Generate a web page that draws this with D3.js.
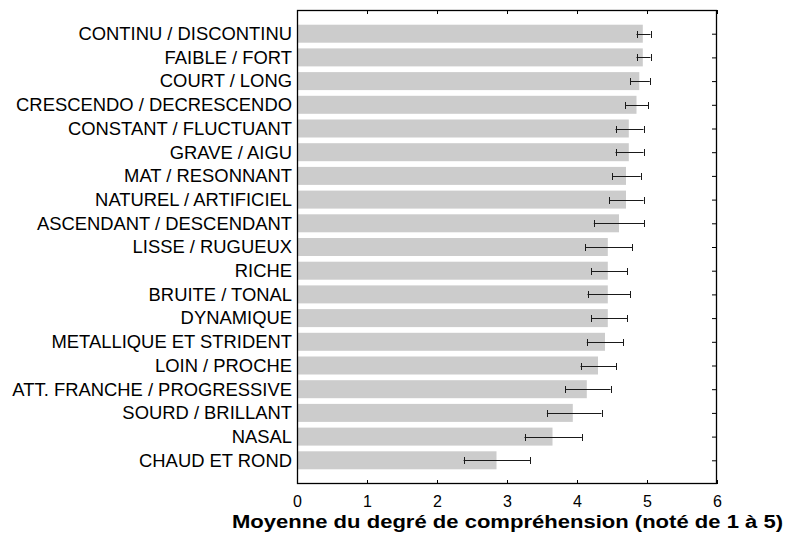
<!DOCTYPE html>
<html>
<head>
<meta charset="utf-8">
<script src="https://cdn.jsdelivr.net/npm/d3@7/dist/d3.min.js"></script>
<style>
  html, body { margin: 0; padding: 0; background: #fff; }
  svg { display: block; }
  text { font-family: "Liberation Sans", Arial, Helvetica, sans-serif; }
</style>
</head>
<body>
<svg id="chart" width="788" height="536"></svg>
<script>
const categories = [
  "CONTINU / DISCONTINU",
  "FAIBLE / FORT",
  "COURT / LONG",
  "CRESCENDO / DECRESCENDO",
  "CONSTANT / FLUCTUANT",
  "GRAVE / AIGU",
  "MAT / RESONNANT",
  "NATUREL / ARTIFICIEL",
  "ASCENDANT / DESCENDANT",
  "LISSE / RUGUEUX",
  "RICHE",
  "BRUITE / TONAL",
  "DYNAMIQUE",
  "METALLIQUE ET STRIDENT",
  "LOIN / PROCHE",
  "ATT. FRANCHE / PROGRESSIVE",
  "SOURD / BRILLANT",
  "NASAL",
  "CHAUD ET ROND"
];
const means = [4.94, 4.94, 4.89, 4.85, 4.74, 4.74, 4.70, 4.70, 4.60, 4.44, 4.44, 4.44, 4.44, 4.40, 4.30, 4.14, 3.94, 3.65, 2.85];
const errLow = [4.85, 4.85, 4.76, 4.69, 4.55, 4.55, 4.50, 4.46, 4.24, 4.12, 4.20, 4.15, 4.20, 4.14, 4.05, 3.83, 3.57, 3.25, 2.38];
const errHigh = [5.05, 5.05, 5.04, 5.02, 4.95, 4.95, 4.91, 4.95, 4.96, 4.79, 4.72, 4.76, 4.72, 4.66, 4.56, 4.48, 4.35, 4.07, 3.33];
const xTicks = [0, 1, 2, 3, 4, 5, 6];
const xTitle = "Moyenne du degré de compréhension (noté de 1 à 5)";

const pLeft = 297, pRight = 717, pTop = 10, pBottom = 484;
const svg = d3.select("#chart");

const x = d3.scaleLinear().domain([0, 6]).range([pLeft, pRight]);
const y = d3.scaleLinear().domain([0, categories.length + 1]).range([pTop, pBottom]);
const barH = 18;

const data = categories.map((c, i) => ({ c, i, m: means[i], lo: errLow[i], hi: errHigh[i] }));

// bars
svg.append("g").selectAll("rect").data(data).join("rect")
  .attr("x", x(0))
  .attr("y", d => y(d.i + 1) - barH / 2)
  .attr("width", d => x(d.m) - x(0))
  .attr("height", barH)
  .attr("fill", "#cccccc");

// error bars
const eg = svg.append("g").attr("stroke", "#1a1a1a").attr("stroke-width", 1).attr("fill", "none");
data.forEach(d => {
  const cy = Math.round(y(d.i + 1)) + 0.5;
  eg.append("line").attr("x1", x(d.lo)).attr("x2", x(d.hi)).attr("y1", cy).attr("y2", cy);
  eg.append("line").attr("x1", Math.round(x(d.lo)) + 0.5).attr("x2", Math.round(x(d.lo)) + 0.5).attr("y1", cy - 3.5).attr("y2", cy + 3.5);
  eg.append("line").attr("x1", Math.round(x(d.hi)) + 0.5).attr("x2", Math.round(x(d.hi)) + 0.5).attr("y1", cy - 3.5).attr("y2", cy + 3.5);
});

// frame
svg.append("rect")
  .attr("x", pLeft + 0.5).attr("y", pTop + 0.5)
  .attr("width", pRight - pLeft - 1).attr("height", pBottom - pTop - 1)
  .attr("fill", "none").attr("stroke", "#000").attr("stroke-width", 1.3);

// bottom axis (ticks inside)
const xAxis = d3.axisBottom(x).tickValues(xTicks).tickSize(-4).tickPadding(12).tickFormat(d3.format("d"));
const gx = svg.append("g").attr("transform", `translate(0,${pBottom})`).call(xAxis);
gx.attr("font-size", null).attr("font-family", null);
gx.select(".domain").remove();
gx.selectAll("text").style("font-size", "16px").attr("fill", "#000")
  .style("font-family", '"Liberation Sans", Arial, sans-serif');
gx.selectAll("line").attr("stroke", "#000");

// top ticks
const xTop = d3.axisTop(x).tickValues(xTicks).tickSize(-4).tickFormat("");
const gt = svg.append("g").attr("transform", `translate(0,${pTop})`).call(xTop);
gt.select(".domain").remove();
gt.selectAll("line").attr("stroke", "#000");

// right ticks at categories
const yRight = d3.axisRight(y).tickValues(d3.range(1, categories.length + 1)).tickSize(-5).tickFormat("");
const gr = svg.append("g").attr("transform", `translate(${pRight},0)`).call(yRight);
gr.select(".domain").remove();
gr.selectAll("line").attr("stroke", "#000");

// left category labels
const yLeft = d3.axisLeft(y).tickValues(d3.range(1, categories.length + 1))
  .tickSize(0).tickPadding(5).tickFormat(v => categories[v - 1]);
const gl = svg.append("g").attr("transform", `translate(${pLeft},0)`).call(yLeft);
gl.attr("font-size", null).attr("font-family", null);
gl.select(".domain").remove();
gl.selectAll("text").style("font-size", "18.4px").attr("fill", "#000")
  .style("font-family", '"Liberation Sans", Arial, sans-serif');

// x title
svg.append("text")
  .attr("x", 507.5).attr("y", 528)
  .attr("text-anchor", "middle")
  .attr("textLength", 551).attr("lengthAdjust", "spacingAndGlyphs")
  .style("font-size", "18px").attr("font-weight", "bold").attr("fill", "#000")
  .text(xTitle);
</script>
</body>
</html>
